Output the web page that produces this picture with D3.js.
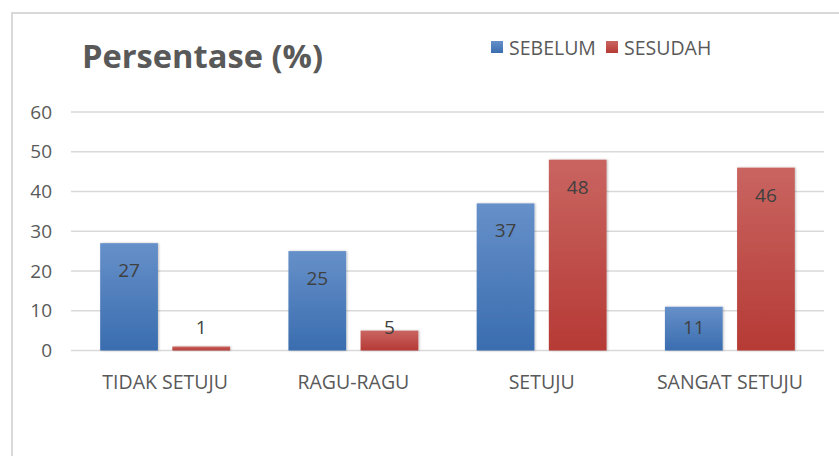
<!DOCTYPE html>
<html>
<head>
<meta charset="utf-8">
<script src="https://cdn.jsdelivr.net/npm/d3@7"></script>
<style>
  html, body { margin: 0; padding: 0; background: #fff; }
  svg { display: block; }
  text { font-family: "Open Sans", "Liberation Sans", sans-serif; }
</style>
</head>
<body>
<svg id="chart" width="839" height="456"></svg>
<script>
// Survey responses, before and after
const categories = ["TIDAK SETUJU", "RAGU-RAGU", "SETUJU", "SANGAT SETUJU"];
const seriesNames = ["SEBELUM", "SESUDAH"];
const sebelum = [27, 25, 37, 11];
const sesudah = [1, 5, 48, 46];
const yTicks = [0, 10, 20, 30, 40, 50, 60];

const svg = d3.select("#chart");
const W = 839, H = 456;
const plot = { left: 71, right: 824, top: 112, bottom: 350.5 };

const colors = {
  SEBELUM: ["#6690C9", "#3A6DAF"],
  SESUDAH: ["#C96561", "#B63A35"]
};

const defs = svg.append("defs");
Object.entries(colors).forEach(([name, [top, bottom]]) => {
  const g = defs.append("linearGradient")
    .attr("id", "grad-" + name).attr("x1", 0).attr("y1", 0).attr("x2", 0).attr("y2", 1);
  g.append("stop").attr("offset", "0%").attr("stop-color", top);
  g.append("stop").attr("offset", "100%").attr("stop-color", bottom);
});
const shadow = defs.append("filter").attr("id", "shadow")
  .attr("x", "-20%").attr("y", "-20%").attr("width", "140%").attr("height", "140%");
shadow.append("feDropShadow").attr("dx", 1).attr("dy", 0).attr("stdDeviation", 1.2)
  .attr("flood-color", "#000").attr("flood-opacity", 0.25);

// Chart frame
svg.append("rect")
  .attr("x", 12).attr("y", 13).attr("width", W + 20).attr("height", H + 20)
  .attr("fill", "#fff").attr("stroke", "#D9D9D9").attr("stroke-width", 2);

const y = d3.scaleLinear().domain([0, 60]).range([plot.bottom, plot.top]);
const x0 = d3.scaleBand().domain(categories).range([plot.left, plot.right])
  .paddingInner(0.31).paddingOuter(0.155);
const x1 = d3.scaleBand().domain(seriesNames).range([0, x0.bandwidth()])
  .paddingInner(0.2).paddingOuter(0);

// Gridlines
svg.append("g")
  .selectAll("line").data(yTicks).join("line")
  .attr("x1", plot.left).attr("x2", plot.right)
  .attr("y1", d => y(d)).attr("y2", d => y(d))
  .attr("stroke", "#D9D9D9").attr("stroke-width", 1.5);

// Y axis labels
const yAxis = d3.axisLeft(y).tickValues(yTicks).tickSize(0).tickPadding(0);
const gy = svg.append("g").attr("transform", `translate(${plot.left - 19},0)`).call(yAxis);
gy.select(".domain").remove();
gy.selectAll("text").attr("fill", "#595959").attr("font-size", 19)
  .attr("font-family", "'Open Sans', sans-serif");

// X axis labels
const xAxis = d3.axisBottom(x0).tickSize(0).tickPadding(0);
const gx = svg.append("g").attr("transform", `translate(0,${plot.bottom + 38.5})`).call(xAxis);
gx.select(".domain").remove();
gx.selectAll("text").attr("fill", "#595959").attr("font-size", 19.5)
  .attr("font-family", "'Open Sans', sans-serif").attr("dy", 0);

// Bars
const rows = categories.map((c, i) => ({
  category: c,
  values: [
    { series: "SEBELUM", value: sebelum[i] },
    { series: "SESUDAH", value: sesudah[i] }
  ]
}));

const groups = svg.append("g").selectAll("g").data(rows).join("g")
  .attr("transform", d => `translate(${x0(d.category)},0)`);

groups.selectAll("rect").data(d => d.values).join("rect")
  .attr("x", d => x1(d.series))
  .attr("width", x1.bandwidth())
  .attr("y", d => y(d.value))
  .attr("height", d => y(0) - y(d.value))
  .attr("fill", d => `url(#grad-${d.series})`)
  .attr("filter", "url(#shadow)");

// Value labels
groups.selectAll("text.val").data(d => d.values).join("text")
  .attr("class", "val")
  .attr("x", d => x1(d.series) + x1.bandwidth() / 2)
  .attr("y", d => Math.min(y(d.value) + 27, y(0) - 24))
  .attr("text-anchor", "middle").attr("dominant-baseline", "central")
  .attr("fill", "#404040").attr("font-size", 19)
  .text(d => d.value);

// Title
svg.append("text")
  .attr("x", 82).attr("y", 68)
  .attr("fill", "#595959").attr("font-size", 33).attr("font-weight", "bold")
  .attr("textLength", 241).attr("lengthAdjust", "spacingAndGlyphs")
  .text("Persentase (%)");

// Legend
const legendX = [491, 606];
const legend = svg.append("g").selectAll("g").data(seriesNames).join("g")
  .attr("transform", (d, i) => `translate(${legendX[i]},41)`);
legend.append("rect").attr("width", 12).attr("height", 12)
  .attr("fill", d => `url(#grad-${d})`);
legend.append("text").attr("x", 18).attr("y", 6.5)
  .attr("dominant-baseline", "central")
  .attr("fill", "#595959").attr("font-size", 19.5)
  .text(d => d);
</script>
</body>
</html>
